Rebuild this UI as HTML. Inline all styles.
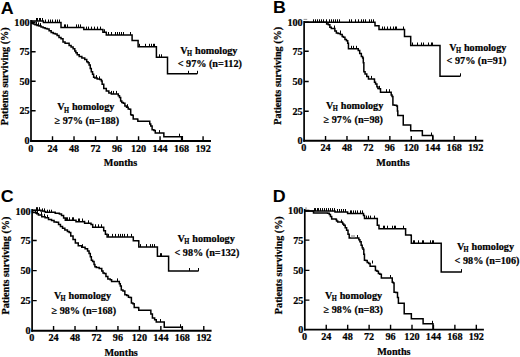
<!DOCTYPE html>
<html><head><meta charset="utf-8"><style>
html,body{margin:0;padding:0;background:#fff;}
svg{display:block;}
.t{font-family:"Liberation Serif", serif;font-weight:bold;font-size:10.2px;fill:#000;stroke:#000;stroke-width:0.22px;}
.s{font-size:7.6px;}
.L{font-family:"Liberation Sans", sans-serif;font-weight:bold;font-size:17px;fill:#000;}
</style></head><body>
<svg width="520" height="357" viewBox="0 0 520 357">
<rect width="520" height="357" fill="#fff"/>
<path d="M31.0,20.0 V141.9" stroke="#000" stroke-width="1.7" fill="none"/>
<path d="M30.15,140.95 H211.0" stroke="#000" stroke-width="1.9" fill="none"/>
<path d="M31.0,22.3 H35.6 M31.0,51.8 H35.6 M31.0,81.3 H35.6 M31.0,110.8 H35.6 " stroke="#000" stroke-width="1.4" fill="none"/>
<path d="M52.51,140.95 V136.15 M74.02,140.95 V136.15 M95.53,140.95 V136.15 M117.04,140.95 V136.15 M138.55,140.95 V136.15 M160.06,140.95 V136.15 M181.57,140.95 V136.15 M203.08,140.95 V136.15 " stroke="#000" stroke-width="1.4" fill="none"/>
<text x="29.6" y="25.75" text-anchor="end" class="t">100</text>
<text x="29.6" y="55.25" text-anchor="end" class="t">75</text>
<text x="29.6" y="84.75" text-anchor="end" class="t">50</text>
<text x="29.6" y="114.25" text-anchor="end" class="t">25</text>
<text x="29.6" y="143.85" text-anchor="end" class="t">0</text>
<text x="30.70" y="151.55" text-anchor="middle" class="t">0</text>
<text x="52.51" y="151.55" text-anchor="middle" class="t">24</text>
<text x="74.02" y="151.55" text-anchor="middle" class="t">48</text>
<text x="95.53" y="151.55" text-anchor="middle" class="t">72</text>
<text x="117.04" y="151.55" text-anchor="middle" class="t">96</text>
<text x="138.55" y="151.55" text-anchor="middle" class="t">120</text>
<text x="160.06" y="151.55" text-anchor="middle" class="t">144</text>
<text x="181.57" y="151.55" text-anchor="middle" class="t">168</text>
<text x="203.08" y="151.55" text-anchor="middle" class="t">192</text>
<text x="120.5" y="166.4" text-anchor="middle" class="t">Months</text>
<text transform="translate(8.4,76.3) rotate(-90)" text-anchor="middle" class="t">Patients surviving (%)</text>
<text transform="translate(0.8,13.5) scale(1.05,1)" class="L">A</text>
<path d="M31,21 H43.4 V22.5 H61 V27.4 H83.8 V29.6 H102.9 V32.3 H106.3 V35 H132.1 V40.6 H138.1 V46.8 H156.4 V57.3 H167.5 V73.8 H197.3 V73.8" stroke="#000" stroke-width="1.5" fill="none" stroke-linejoin="miter"/>
<path d="M31,21.3 H31.75 V23.3 H32.5 H33.25 V24 H34 H35.0 V24.7 H36 H37.0 V25.4 H38 H39.0 V26.1 H40 H41.05 V27.1 H42.1 H43.1 V27.7 H44.1 H45.1 V28.4 H46.1 H47.1 V29.1 H48.1 H49.1 V30.8 H50.1 H51.15 V32.5 H52.2 H53.2 V33.5 H54.2 H55.2 V34.1 H56.2 H57.1 V35.5 H58 H59.0 V37.4 H60 H61.0 V38.7 H62 H63.0 V42.1 H64 H65.05 V43.3 H66.1 H68.1 V43.3 H69.1 V45.4 H70.1 H71.1 V47.1 H72.1 H73.1 V48.8 H74.1 H74.8 V51 H75.5 H75.85 V52.8 H76.2 H77.2 V54.8 H78.2 H79.2 V56.4 H80.2 H81.85 V58.1 H83.5 H84.75 V59.4 H86 H86.75 V61.7 H87.5 H88.05 V62.7 H88.6 H89.1 V65.1 H89.6 H90.25 V68.4 H90.9 H91.3 V71.8 H91.7 H92.55 V74.3 H93.4 H93.6 V77.3 H93.8 H94.85 V78.1 H95.9 H97.15 V79 H98.4 H99.7 V79.4 H101 H101.4 V81 H101.8 H102.15 V84.2 H102.5 H103.75 V88.4 H105 H106.3 V91 H107.6 H108.85 V93.1 H110.1 H111.35 V93.9 H112.6 H117.6 V93.9 H118.3 V95.8 H119 H119.5 V97.6 H120 H120.65 V101 H121.3 H121.8 V102.5 H122.3 H123.3 V103.3 H124.3 H124.9 V106 H125.5 H126.55 V107.2 H127.6 H128.2 V108.9 H128.8 H129.65 V109.3 H130.5 H130.7 V114.7 H130.9 H131.95 V115.2 H133 H133.2 V119 H133.4 H137.6 V119.4 H137.85 V121.3 H138.1 H149.2 V121.3 H149.75 V124 H150.3 H150.75 V126.1 H151.2 H152.1 V129.7 H153 H153.9 V130.6 H154.8 H155.25 V133.1 H155.7 H163.7 V133.1 H163.85 V136.7 H164 H182.3 V136.7 H182.3 V141" stroke="#000" stroke-width="1.5" fill="none" stroke-linejoin="miter"/>
<path d="M36.5,21 V18.0 M37.5,21 V18.0 M39.5,21 V18.0 M40.5,21 V18.0 M42.5,21 V18.0 M45.5,22.5 V19.5 M48.5,22.5 V19.5 M50.5,22.5 V19.5 M52.5,22.5 V19.5 M55.5,22.5 V19.5 M57.5,22.5 V19.5 M59.5,22.5 V19.5 M64.5,27.4 V24.4 M65.5,27.4 V24.4 M67.5,27.4 V24.4 M76.5,27.4 V24.4 M78.5,27.4 V24.4 M80.5,27.4 V24.4 M86.5,29.6 V26.6 M88.5,29.6 V26.6 M91.5,29.6 V26.6 M94.5,29.6 V26.6 M97.5,29.6 V26.6 M100.5,29.6 V26.6 M104.5,32.3 V29.3 M108.5,35 V32.0 M111.5,35 V32.0 M115.5,35 V32.0 M117.5,35 V32.0 M119.5,35 V32.0 M121.5,35 V32.0 M123.5,35 V32.0 M130.5,35 V32.0 M139.5,46.8 V43.8 M145.5,46.8 V43.8 M149.5,46.8 V43.8 M151.5,46.8 V43.8 M153.5,46.8 V43.8 M154.5,46.8 V43.8 M159.5,57.3 V54.3 M161.5,57.3 V54.3 M188.5,73.8 V70.8 M197.5,73.8 V70.8 M36.5,24.7 V21.7 M38.5,25.4 V22.4 M40.5,26.1 V23.1 M96.5,78.1 V75.1 M99.5,79.4 V76.4 M111.5,93.9 V90.9 M113.5,93.9 V90.9 M116.5,93.9 V90.9 M127.5,107.2 V104.2 M159.5,133.1 V130.1 M179.5,136.7 V133.7 " stroke="#000" stroke-width="1" fill="none"/>
<text x="180.3" y="53.5" class="t">V</text>
<text transform="translate(187.0,55.6) scale(0.86,1)" class="t s">H</text>
<text x="195.0" y="53.5" class="t">homology</text>
<text x="177.7" y="66.8" class="t">&lt; 97% (n=112)</text>
<text x="57.2" y="110.4" class="t">V</text>
<text transform="translate(63.9,112.5) scale(0.86,1)" class="t s">H</text>
<text x="71.9" y="110.4" class="t">homology</text>
<text x="54.5" y="124.1" class="t">≥ 97% (n=188)</text>
<path d="M304.1,21.0 V141.75" stroke="#000" stroke-width="1.7" fill="none"/>
<path d="M303.25,140.8 H483.3" stroke="#000" stroke-width="1.9" fill="none"/>
<path d="M304.1,22.1 H308.7 M304.1,51.3 H308.7 M304.1,81.5 H308.7 M304.1,111.3 H308.7 " stroke="#000" stroke-width="1.4" fill="none"/>
<path d="M325.54,140.8 V136.0 M346.98,140.8 V136.0 M368.42,140.8 V136.0 M389.86,140.8 V136.0 M411.30,140.8 V136.0 M432.74,140.8 V136.0 M454.18,140.8 V136.0 M475.62,140.8 V136.0 " stroke="#000" stroke-width="1.4" fill="none"/>
<text x="302.7" y="25.65" text-anchor="end" class="t">100</text>
<text x="302.7" y="54.75" text-anchor="end" class="t">75</text>
<text x="302.7" y="84.95" text-anchor="end" class="t">50</text>
<text x="302.7" y="114.75" text-anchor="end" class="t">25</text>
<text x="302.7" y="144.25" text-anchor="end" class="t">0</text>
<text x="303.80" y="151.4" text-anchor="middle" class="t">0</text>
<text x="325.54" y="151.4" text-anchor="middle" class="t">24</text>
<text x="346.98" y="151.4" text-anchor="middle" class="t">48</text>
<text x="368.42" y="151.4" text-anchor="middle" class="t">72</text>
<text x="389.86" y="151.4" text-anchor="middle" class="t">96</text>
<text x="411.30" y="151.4" text-anchor="middle" class="t">120</text>
<text x="432.74" y="151.4" text-anchor="middle" class="t">144</text>
<text x="454.18" y="151.4" text-anchor="middle" class="t">168</text>
<text x="475.62" y="151.4" text-anchor="middle" class="t">192</text>
<text x="393.0" y="166.4" text-anchor="middle" class="t">Months</text>
<text transform="translate(281.3,75.8) rotate(-90)" text-anchor="middle" class="t">Patients surviving (%)</text>
<text transform="translate(273.0,13.3) scale(1.05,1)" class="L">B</text>
<path d="M304,22.3 H375 V25.8 H379 V29.5 H404.5 V36.6 H410.7 V45.5 H440.0 V76.3 H460.4 V76.3" stroke="#000" stroke-width="1.5" fill="none" stroke-linejoin="miter"/>
<path d="M304,22.3 H325.8 V22.3 H326.65 V23.9 H327.5 H328.35 V24.7 H329.2 H329.85 V27.2 H330.5 H331.3 V28.5 H332.1 H334.2 V28.5 H334.85 V31 H335.5 H336.35 V33.1 H337.2 H338.05 V33.5 H338.9 H340.35 V34.4 H341.8 H342.2 V36.5 H342.6 H343.45 V37.3 H344.3 H344.95 V39.4 H345.6 H346.45 V40.7 H347.3 H347.7 V43.2 H348.1 H348.45 V48.8 H348.8 H357.6 V48.8 H358.25 V50.5 H358.9 H359.7 V53.4 H360.5 H361.35 V56.4 H362.2 H362.65 V58.1 H363.1 H363.3 V62.7 H363.5 H363.85 V71.8 H364.2 H365.05 V73.9 H365.9 H366.75 V76.4 H367.6 H368.45 V78.9 H369.3 H374.3 V79.3 H374.5 V82.3 H374.7 H375.55 V84 H376.4 H376.9 V86.7 H377.4 H377.9 V88.4 H378.4 H379.25 V88.8 H380.1 H380.5 V92.2 H380.9 H391 V92.2 H391.2 V95.1 H391.4 H392.05 V96.4 H392.7 H392.9 V105 H393.1 H394.55 V105.3 H396 H396.6 V106 H397.2 H397.4 V110.9 H397.6 H397.8 V115.5 H398 H403.1 V115.5 H403.25 V125.1 H403.4 H410.6 V125.1 H410.7 V130.7 H410.8 H422.1 V130.7 H422.35 V135.5 H422.6 H432.8 V135.5 H432.8 V140.8" stroke="#000" stroke-width="1.5" fill="none" stroke-linejoin="miter"/>
<path d="M313.5,22.3 V19.3 M315.5,22.3 V19.3 M317.5,22.3 V19.3 M319.5,22.3 V19.3 M321.5,22.3 V19.3 M323.5,22.3 V19.3 M326.5,22.3 V19.3 M329.5,22.3 V19.3 M331.5,22.3 V19.3 M333.5,22.3 V19.3 M335.5,22.3 V19.3 M337.5,22.3 V19.3 M339.5,22.3 V19.3 M349.5,22.3 V19.3 M351.5,22.3 V19.3 M355.5,22.3 V19.3 M358.5,22.3 V19.3 M361.5,22.3 V19.3 M363.5,22.3 V19.3 M365.5,22.3 V19.3 M369.5,22.3 V19.3 M371.5,22.3 V19.3 M373.5,22.3 V19.3 M382.5,29.5 V26.5 M384.5,29.5 V26.5 M387.5,29.5 V26.5 M390.5,29.5 V26.5 M393.5,29.5 V26.5 M395.5,29.5 V26.5 M396.5,29.5 V26.5 M403.5,29.5 V26.5 M412.5,45.5 V42.5 M417.5,45.5 V42.5 M421.5,45.5 V42.5 M423.5,45.5 V42.5 M428.5,45.5 V42.5 M431.5,45.5 V42.5 M432.5,45.5 V42.5 M460.5,76.3 V73.3 M334.5,28.5 V25.5 M340.5,33.5 V30.5 M351.5,48.8 V45.8 M353.5,48.8 V45.8 M356.5,48.8 V45.8 M371.5,78.9 V75.9 M379.5,88.8 V85.8 M386.5,92.2 V89.2 M389.5,92.2 V89.2 M431.5,135.5 V132.5 " stroke="#000" stroke-width="1" fill="none"/>
<text x="449.2" y="51.3" class="t">V</text>
<text transform="translate(455.9,53.4) scale(0.86,1)" class="t s">H</text>
<text x="463.9" y="51.3" class="t">homology</text>
<text x="446.6" y="64.2" class="t">&lt; 97% (n=91)</text>
<text x="326.1" y="108.5" class="t">V</text>
<text transform="translate(332.8,110.6) scale(0.86,1)" class="t s">H</text>
<text x="340.8" y="108.5" class="t">homology</text>
<text x="323.5" y="122.5" class="t">≥ 97% (n=98)</text>
<path d="M32.1,209.0 V331.65" stroke="#000" stroke-width="1.7" fill="none"/>
<path d="M31.25,330.7 H211.6" stroke="#000" stroke-width="1.9" fill="none"/>
<path d="M32.1,210.5 H36.7 M32.1,240.5 H36.7 M32.1,270.6 H36.7 M32.1,300.6 H36.7 " stroke="#000" stroke-width="1.4" fill="none"/>
<path d="M53.56,330.7 V325.9 M75.02,330.7 V325.9 M96.48,330.7 V325.9 M117.94,330.7 V325.9 M139.40,330.7 V325.9 M160.86,330.7 V325.9 M182.32,330.7 V325.9 M203.78,330.7 V325.9 " stroke="#000" stroke-width="1.4" fill="none"/>
<text x="30.7" y="214.95" text-anchor="end" class="t">100</text>
<text x="30.7" y="243.95" text-anchor="end" class="t">75</text>
<text x="30.7" y="274.05" text-anchor="end" class="t">50</text>
<text x="30.7" y="304.05" text-anchor="end" class="t">25</text>
<text x="30.7" y="333.85" text-anchor="end" class="t">0</text>
<text x="31.80" y="341.3" text-anchor="middle" class="t">0</text>
<text x="53.56" y="341.3" text-anchor="middle" class="t">24</text>
<text x="75.02" y="341.3" text-anchor="middle" class="t">48</text>
<text x="96.48" y="341.3" text-anchor="middle" class="t">72</text>
<text x="117.94" y="341.3" text-anchor="middle" class="t">96</text>
<text x="139.40" y="341.3" text-anchor="middle" class="t">120</text>
<text x="160.86" y="341.3" text-anchor="middle" class="t">144</text>
<text x="182.32" y="341.3" text-anchor="middle" class="t">168</text>
<text x="203.78" y="341.3" text-anchor="middle" class="t">192</text>
<text x="121.1" y="355.8" text-anchor="middle" class="t">Months</text>
<text transform="translate(9.0,265.6) rotate(-90)" text-anchor="middle" class="t">Patients surviving (%)</text>
<text transform="translate(0.8,201.8) scale(1.05,1)" class="L">C</text>
<path d="M32.1,210.2 H40.9 V211 H44.3 V211.4 H45.5 V212.2 H55.2 V213.3 H59.4 V214.0 H61.5 V215.6 H63.6 V218.0 H65.3 V220.2 H75.4 V220.3 H76 V221.7 H84 V221.5 H84.6 V223.3 H89.8 V223.3 H91 V224.4 H92.7 V227.3 H102.5 V227.3 H103.7 V230.8 H105.4 V234.2 H107.1 V236.9 H132.1 V236.9 H133.3 V240.8 H138.5 V241.1 H138.8 V247.1 H157 V247.1 H157.4 V256.2 H168.4 V256.2 H168.6 V271 H198.6 V271" stroke="#000" stroke-width="1.5" fill="none" stroke-linejoin="miter"/>
<path d="M32.1,210.8 H32.55 V212.4 H33 H36.7 V213.7 H38.4 V215.1 H40.1 H41.75 V216.8 H43.4 H45.1 V217.8 H46.8 H48.5 V219.4 H50.2 H51.55 V220.5 H52.9 H54.05 V221.9 H55.2 H56.45 V222.3 H57.7 H58.55 V224.4 H59.4 H60.45 V226.5 H61.5 H62.55 V228.2 H63.6 H64.85 V229.9 H66.1 H67.4 V231.6 H68.7 H69.15 V232.5 H69.6 H70.75 V236 H71.9 H73.05 V239.4 H74.2 H75.35 V242.9 H76.5 H78.25 V245.8 H80 H81.75 V247.2 H83.5 H85.1 V248.8 H86.7 H87.55 V250.9 H88.4 H89.05 V253.4 H89.7 H90.3 V256.8 H90.9 H91.35 V260.2 H91.8 H92.6 V261.4 H93.4 H94.05 V264.4 H94.7 H94.9 V266.8 H95.1 H96.3 V267.5 H97.5 H99.2 V268.4 H100.9 H101.75 V270.9 H102.6 H103.0 V273 H103.4 H104.25 V273.4 H105.1 H105.95 V276.4 H106.8 H107.85 V278.9 H108.9 H110.15 V279.7 H111.4 H111.6 V281.4 H111.8 H119 V281.4 H119.35 V283.8 H119.7 H120.3 V285.9 H120.9 H121.3 V290.1 H121.7 H122.95 V290.9 H124.2 H124.85 V294.7 H125.5 H126.75 V295.5 H128 H128.45 V297.2 H128.9 H129.95 V297.6 H131 H131.4 V303.1 H131.8 H132.9 V303.7 H134 H134.2 V307.5 H134.4 H138.5 V308 H138.75 V310.3 H139 H150.2 V310.3 H150.85 V313.9 H151.5 H152.4 V317.9 H153.3 H154.65 V319.7 H156 H156.25 V322 H156.5 H164.1 V322 H164.25 V327.2 H164.4 H182.3 V327.2 H182.3 V330.7" stroke="#000" stroke-width="1.5" fill="none" stroke-linejoin="miter"/>
<path d="M36.5,210.2 V207.2 M37.5,210.2 V207.2 M39.5,210.2 V207.2 M42.5,211.4 V208.4 M44.5,211.4 V208.4 M47.5,212.7 V209.7 M49.5,212.7 V209.7 M51.5,212.7 V209.7 M66.5,220.3 V217.3 M67.5,220.3 V217.3 M69.5,220.3 V217.3 M72.5,220.3 V217.3 M73.5,220.3 V217.3 M78.5,221.5 V218.5 M79.5,221.5 V218.5 M82.5,221.5 V218.5 M88.5,223.3 V220.3 M95.5,227.3 V224.3 M98.5,227.3 V224.3 M101.5,227.3 V224.3 M108.5,236.9 V233.9 M112.5,236.9 V233.9 M115.5,236.9 V233.9 M118.5,236.9 V233.9 M120.5,236.9 V233.9 M122.5,236.9 V233.9 M124.5,236.9 V233.9 M127.5,236.9 V233.9 M131.5,236.9 V233.9 M140.5,247.1 V244.1 M146.5,247.1 V244.1 M150.5,247.1 V244.1 M152.5,247.1 V244.1 M154.5,247.1 V244.1 M160.5,256.2 V253.2 M161.5,256.2 V253.2 M189.5,271 V268.0 M198.5,271 V268.0 M35.5,213.7 V210.7 M37.5,213.7 V210.7 M41.5,215.1 V212.1 M44.5,216.8 V213.8 M47.5,217.8 V214.8 M82.5,247.2 V244.2 M117.5,281.4 V278.4 M160.5,322 V319.0 M180.5,327.2 V324.2 " stroke="#000" stroke-width="1" fill="none"/>
<text x="177.6" y="242.0" class="t">V</text>
<text transform="translate(184.3,244.1) scale(0.86,1)" class="t s">H</text>
<text x="192.3" y="242.0" class="t">homology</text>
<text x="174.5" y="255.6" class="t">&lt; 98% (n=132)</text>
<text x="53.9" y="299.2" class="t">V</text>
<text transform="translate(60.6,301.3) scale(0.86,1)" class="t s">H</text>
<text x="68.6" y="299.2" class="t">homology</text>
<text x="51.5" y="313.6" class="t">≥ 98% (n=168)</text>
<path d="M304.8,209.0 V330.55" stroke="#000" stroke-width="1.7" fill="none"/>
<path d="M303.95,329.6 H483.9" stroke="#000" stroke-width="1.9" fill="none"/>
<path d="M304.8,210.5 H309.4 M304.8,240.1 H309.4 M304.8,270.4 H309.4 M304.8,300.1 H309.4 " stroke="#000" stroke-width="1.4" fill="none"/>
<path d="M326.24,329.6 V324.8 M347.68,329.6 V324.8 M369.12,329.6 V324.8 M390.56,329.6 V324.8 M412.00,329.6 V324.8 M433.44,329.6 V324.8 M454.88,329.6 V324.8 M476.32,329.6 V324.8 " stroke="#000" stroke-width="1.4" fill="none"/>
<text x="303.4" y="214.35" text-anchor="end" class="t">100</text>
<text x="303.4" y="243.55" text-anchor="end" class="t">75</text>
<text x="303.4" y="273.85" text-anchor="end" class="t">50</text>
<text x="303.4" y="303.55" text-anchor="end" class="t">25</text>
<text x="303.4" y="333.05" text-anchor="end" class="t">0</text>
<text x="304.50" y="340.2" text-anchor="middle" class="t">0</text>
<text x="326.24" y="340.2" text-anchor="middle" class="t">24</text>
<text x="347.68" y="340.2" text-anchor="middle" class="t">48</text>
<text x="369.12" y="340.2" text-anchor="middle" class="t">72</text>
<text x="390.56" y="340.2" text-anchor="middle" class="t">96</text>
<text x="412.00" y="340.2" text-anchor="middle" class="t">120</text>
<text x="433.44" y="340.2" text-anchor="middle" class="t">144</text>
<text x="454.88" y="340.2" text-anchor="middle" class="t">168</text>
<text x="476.32" y="340.2" text-anchor="middle" class="t">192</text>
<text x="393.9" y="355.2" text-anchor="middle" class="t">Months</text>
<text transform="translate(281.8,265.2) rotate(-90)" text-anchor="middle" class="t">Patients surviving (%)</text>
<text transform="translate(272.8,201.9) scale(1.05,1)" class="L">D</text>
<path d="M304.8,211.1 H335 V212.0 H347.6 V213.4 H363.5 V215.5 H364.5 V218.6 H375.6 V218.6 H377.3 V225.2 H379 V228.7 H404.4 V228.7 H405.6 V235 H410.8 V235.2 H411.3 V243.3 H440.8 V243.3 H441.2 V272.1 H461.8 V272.1" stroke="#000" stroke-width="1.5" fill="none" stroke-linejoin="miter"/>
<path d="M304.8,211.1 H313.5 V213 H326.5 V213 H327.6 V213.2 H328.7 H329.3 V214.6 H329.9 H330.45 V216.4 H331 H331.7 V218.9 H332.4 H336 V219.4 H336.55 V221.1 H337.1 H337.7 V222 H338.3 H342.2 V222.5 H342.75 V224 H343.3 H343.85 V225.3 H344.4 H345.2 V227.7 H346 H346.6 V230.2 H347.2 H348.0 V234.2 H348.8 H349.2 V238 H349.6 H358.4 V238 H358.85 V239.7 H359.3 H359.9 V241.8 H360.5 H361.15 V245.2 H361.8 H362.2 V247.7 H362.6 H363.0 V249.2 H363.4 H363.8 V254.2 H364.2 H364.45 V260.2 H364.7 H365.75 V260.5 H366.8 H367.2 V262.6 H367.6 H368.65 V263.5 H369.7 H370.1 V266.2 H370.5 H375 V266.5 H375.45 V270.5 H375.9 H376.95 V271.3 H378 H378.4 V273.4 H378.8 H379.85 V274.2 H380.9 H381.35 V278 H381.8 H391.8 V278 H392.25 V282.2 H392.7 H393.3 V283.1 H393.9 H394.05 V292.3 H394.2 H395.75 V292.5 H397.3 H397.5 V297.6 H397.7 H398.4 V303.2 H399.1 H404 V303.2 H404.2 V313.7 H404.4 H411 V313.7 H411.35 V318.8 H411.7 H422.9 V318.8 H423.1 V323.8 H423.3 H433 V323.8 H433 V329.6" stroke="#000" stroke-width="1.5" fill="none" stroke-linejoin="miter"/>
<path d="M314.5,211.1 V208.1 M315.5,211.1 V208.1 M317.5,211.1 V208.1 M318.5,211.1 V208.1 M320.5,211.1 V208.1 M322.5,211.1 V208.1 M324.5,211.1 V208.1 M326.5,211.1 V208.1 M328.5,211.1 V208.1 M330.5,211.1 V208.1 M332.5,211.1 V208.1 M334.5,211.1 V208.1 M337.5,212.0 V209.0 M339.5,212.0 V209.0 M341.5,212.0 V209.0 M343.5,212.0 V209.0 M345.5,212.0 V209.0 M350.5,213.4 V210.4 M351.5,213.4 V210.4 M353.5,213.4 V210.4 M355.5,213.4 V210.4 M357.5,213.4 V210.4 M360.5,213.4 V210.4 M362.5,213.4 V210.4 M366.5,218.6 V215.6 M368.5,218.6 V215.6 M370.5,218.6 V215.6 M374.5,218.6 V215.6 M383.5,228.7 V225.7 M384.5,228.7 V225.7 M387.5,228.7 V225.7 M392.5,228.7 V225.7 M394.5,228.7 V225.7 M395.5,228.7 V225.7 M403.5,228.7 V225.7 M413.5,243.3 V240.3 M414.5,243.3 V240.3 M418.5,243.3 V240.3 M422.5,243.3 V240.3 M423.5,243.3 V240.3 M430.5,243.3 V240.3 M432.5,243.3 V240.3 M433.5,243.3 V240.3 M461.5,272.1 V269.1 M341.5,222.6 V219.6 M357.5,238 V235.0 M372.5,263.5 V260.5 M390.5,278 V275.0 M432.5,323.8 V320.8 " stroke="#000" stroke-width="1" fill="none"/>
<text x="456.9" y="250.1" class="t">V</text>
<text transform="translate(463.6,252.2) scale(0.86,1)" class="t s">H</text>
<text x="471.6" y="250.1" class="t">homology</text>
<text x="454.6" y="263.7" class="t">&lt; 98% (n=106)</text>
<text x="325.0" y="298.5" class="t">V</text>
<text transform="translate(331.7,300.6) scale(0.86,1)" class="t s">H</text>
<text x="339.7" y="298.5" class="t">homology</text>
<text x="323.5" y="313.3" class="t">≥ 98% (n=83)</text>
<path d="M303.6,19.4 H307.2" stroke="#888" stroke-width="0.9" fill="none"/>
<path d="M306,207.3 V209.8" stroke="#777" stroke-width="0.9" fill="none"/>
<rect x="351" y="235" width="4" height="2.3" fill="#bbb"/>
</svg>
</body></html>
